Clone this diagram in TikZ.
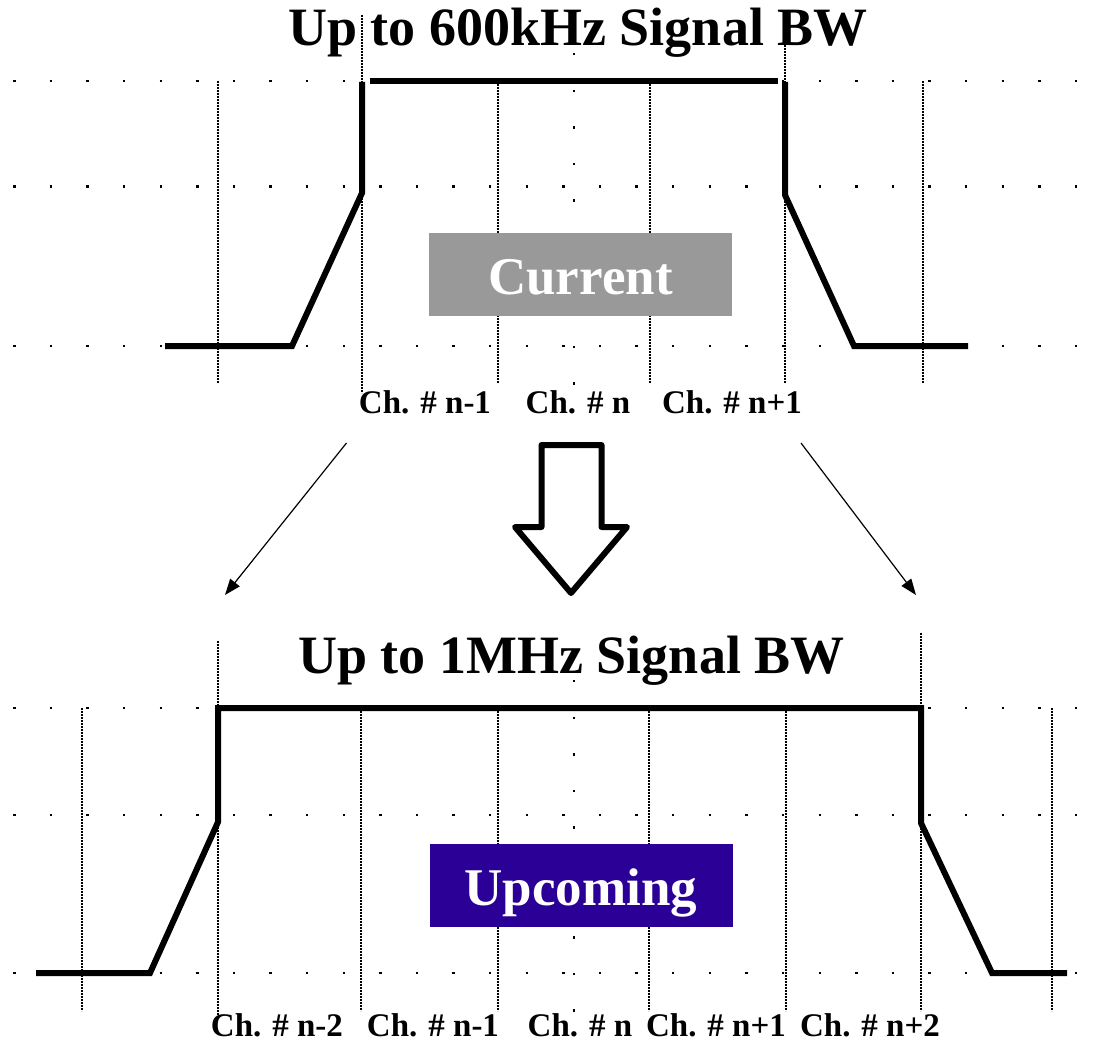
\documentclass[tikz,border=0pt]{standalone}
\usepackage{fontspec}
\setmainfont{Liberation Serif}
\usetikzlibrary{arrows.meta}
\definecolor{grisactual}{RGB}{153,153,153}
\definecolor{azulfuturo}{RGB}{42,0,150}

\begin{document}
\begin{tikzpicture}[
  x=1pt, y=-1pt,
  titulo/.style={font=\fontsize{54}{60}\selectfont\bfseries, anchor=base,
    inner sep=0pt},
  etiq/.style={font=\fontsize{33}{38}\selectfont\bfseries, anchor=base,
    inner sep=0pt},
  caja/.style={rectangle, inner sep=0pt, minimum width=303pt,
    minimum height=83pt, text height=40pt, text depth=0pt, text=white,
    font=\fontsize{53}{60}\selectfont\bfseries},
  mascara/.style={line width=6pt},
  rejilla/.style={line width=1.9pt, dash pattern=on 1.6pt off 1.4pt},
  puntos/.style={line width=2.4pt, dash pattern=on 2.4pt off 34.21pt},
  flujo/.style={-{Triangle[length=16pt, width=12pt]}, line width=1.2pt},
  flecha/.style={line width=6pt, line join=round}]
\useasboundingbox (0,0) rectangle (1101,1043);
% Panel superior: rejilla de puntos
\draw[puntos] (13.1,81) -- (1078,81);
\draw[puntos] (13.1,186.5) -- (1078,186.5);
\draw[puntos] (13.1,346) -- (1078,346);
\draw[puntos] (574,53) -- (574,385);
% Lineas de canal (los bordes de banda suben hasta el titulo)
\draw[rejilla] (218,81) -- (218,383);
\draw[rejilla] (362,15) -- (362,393);
\draw[rejilla] (498,81) -- (498,383);
\draw[rejilla] (650,81) -- (650,383);
\draw[rejilla] (785,15) -- (785,383);
\draw[rejilla] (923,81) -- (923,383);
% Titulo y bloque del panel superior
\node[titulo] (titA) at (578,46) {Up to 600kHz Signal BW};
\node[caja, fill=grisactual] (actual) at (580.5,274.5) {Current};
% Mascara espectral actual
\draw[mascara] (165,346) -- (292,346) -- (362,193) -- (362,82);
\draw[mascara] (370,81) -- (778,81);
\draw[mascara] (785,82) -- (785,195) -- (854,346) -- (968,346);
% Canales
\node[etiq] (cA1) at (425,413) {Ch. \# n-1};
\node[etiq] (cA2) at (578,413) {Ch. \# n};
\node[etiq] (cA3) at (732,413) {Ch. \# n+1};
% Transicion: flechas finas y flecha hueca
\coordinate (salI) at (346.5,443);
\coordinate (llegI) at (225,595);
\coordinate (salD) at (801,443);
\coordinate (llegD) at (916,595);
\draw[flujo] (salI) -- (llegI);
\draw[flujo] (salD) -- (llegD);
\draw[flecha] (541.5,445) -- (601.5,445) -- (601.5,527) -- (627,527)
  -- (571,593) -- (515,527) -- (541.5,527) -- cycle;
% Panel inferior: rejilla de puntos
\draw[puntos] (13.1,708) -- (1078,708);
\draw[puntos] (13.1,815) -- (1078,815);
\draw[puntos] (13.1,973) -- (1078,973);
\draw[puntos] (574,680) -- (574,1012);
% Lineas de canal
\draw[rejilla] (82,708) -- (82,1011);
\draw[rejilla] (218,641) -- (218,1018);
\draw[rejilla] (361,708) -- (361,1011);
\draw[rejilla] (498,708) -- (498,1011);
\draw[rejilla] (649,708) -- (649,1011);
\draw[rejilla] (786,708) -- (786,1011);
\draw[rejilla] (921,633) -- (921,1011);
\draw[rejilla] (1052,708) -- (1052,1011);
% Titulo y bloque del panel inferior
\node[titulo] (titB) at (571.5,673) {Up to 1MHz Signal BW};
\node[caja, fill=azulfuturo] (futuro) at (581,885.5) {Upcoming};
% Mascara espectral futura
\draw[mascara] (36,973) -- (150,973) -- (218,822) -- (218,708)
  -- (921,708) -- (921,823) -- (992,973) -- (1067,973);
% Canales
\node[etiq] (cB1) at (277,1036) {Ch. \# n-2};
\node[etiq] (cB2) at (433,1036) {Ch. \# n-1};
\node[etiq] (cB3) at (580,1036) {Ch. \# n};
\node[etiq] (cB4) at (716,1036) {Ch. \# n+1};
\node[etiq] (cB5) at (870,1036) {Ch. \# n+2};
\end{tikzpicture}
\end{document}
